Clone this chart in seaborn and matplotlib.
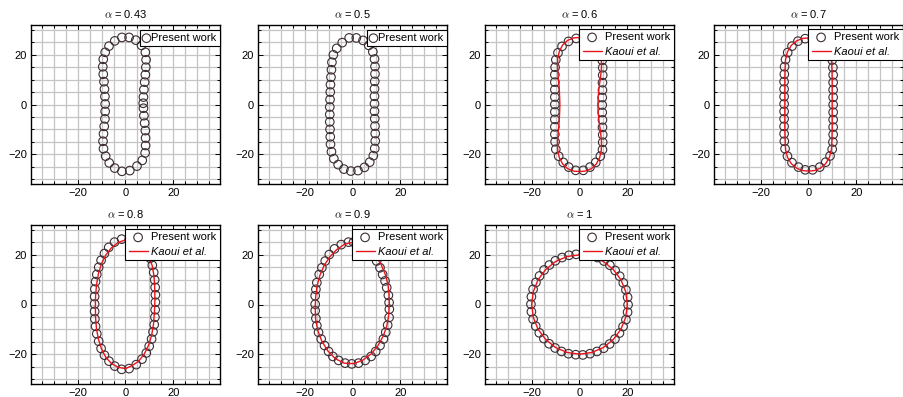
import numpy as np
import pandas as pd
import matplotlib
matplotlib.use("Agg")
import matplotlib.pyplot as plt
import seaborn as sns

# ---------------- data ----------------
alpha_labels = ["0.43", "0.5", "0.6", "0.7", "0.8", "0.9", "1"]

present_043 = [(-1.5, 27.0), (1.5, 27.0), (4.3, 25.9), (6.7, 23.8), (8.3, 21.0), (8.6, 18.0),
               (8.5, 15.0), (8.3, 12.0), (8.0, 9.0), (7.7, 6.0), (7.5, 3.0), (7.4, 0.5),
               (7.5, -1.5), (7.7, -4.5), (8.0, -7.5), (8.3, -10.5), (8.4, -13.5), (8.4, -16.5),
               (8.2, -19.5), (7.0, -22.5), (4.8, -24.8), (1.8, -26.6), (-1.5, -26.9), (-4.5, -25.6),
               (-6.8, -23.5), (-8.3, -20.8), (-9.2, -17.8), (-9.4, -14.8), (-9.2, -11.8), (-8.9, -8.8),
               (-8.6, -5.8), (-8.5, -2.8), (-8.5, 0.2), (-8.6, 3.2), (-8.8, 6.2), (-9.0, 9.2),
               (-9.3, 12.2), (-9.5, 15.2), (-9.3, 18.2), (-8.5, 21.0), (-6.9, 23.5), (-4.5, 25.6)]

present_05 = [(-1.4, 26.8), (1.6, 26.8), (4.4, 25.8), (6.8, 23.8), (8.5, 21.2), (9.2, 18.3),
              (9.4, 15.3), (9.4, 12.3), (9.3, 9.3), (9.2, 6.3), (9.2, 3.3), (9.2, 0.3),
              (9.2, -2.7), (9.3, -5.7), (9.4, -8.7), (9.5, -11.7), (9.5, -14.7), (9.3, -17.7),
              (8.7, -20.6), (7.2, -23.2), (5.0, -25.3), (2.3, -26.6), (-0.7, -26.8), (-3.6, -26.0),
              (-6.0, -24.2), (-7.8, -21.8), (-8.8, -19.0), (-9.2, -16.0), (-9.3, -13.0), (-9.4, -10.0),
              (-9.5, -7.0), (-9.5, -4.0), (-9.5, -1.0), (-9.4, 2.0), (-9.3, 5.0), (-9.2, 8.0),
              (-9.0, 11.0), (-8.8, 14.0), (-8.6, 17.0), (-8.0, 20.0), (-6.6, 22.6), (-4.3, 24.9)]

present_06 = [(-1.4, 26.6), (1.6, 26.6), (4.4, 25.4), (6.8, 23.4), (8.6, 20.8), (9.5, 17.8),
              (9.7, 14.8), (9.7, 11.8), (9.6, 8.8), (9.6, 5.8), (9.5, 2.8), (9.5, -0.2),
              (9.5, -3.2), (9.6, -6.2), (9.6, -9.2), (9.7, -12.2), (9.7, -15.2), (9.6, -18.2),
              (8.7, -20.8), (6.8, -23.3), (4.4, -25.2), (1.6, -26.5), (-1.6, -26.5), (-4.5, -25.2),
              (-6.8, -23.3), (-8.7, -20.8), (-9.9, -18.0), (-10.2, -15.0), (-10.3, -12.0), (-10.3, -9.0),
              (-10.3, -6.0), (-10.3, -3.0), (-10.3, 0.0), (-10.3, 3.0), (-10.3, 6.0), (-10.3, 9.0),
              (-10.3, 12.0), (-10.2, 15.0), (-9.9, 18.0), (-9.0, 20.8), (-7.3, 23.4), (-4.6, 25.4)]

present_07 = [(-1.4, 26.5), (1.6, 26.5), (4.5, 25.4), (7.0, 23.4), (8.8, 20.8), (9.9, 17.9),
              (10.2, 14.9), (10.3, 11.9), (10.3, 8.9), (10.3, 5.9), (10.3, 2.9), (10.3, -0.1),
              (10.3, -3.1), (10.3, -6.1), (10.3, -9.1), (10.3, -12.1), (10.2, -15.1), (9.9, -18.0),
              (9.0, -20.7), (7.2, -23.2), (4.7, -25.2), (1.7, -26.3), (-1.4, -26.3), (-4.2, -25.2),
              (-6.9, -23.4), (-8.8, -20.8), (-9.8, -17.8), (-10.1, -14.8), (-10.2, -11.8), (-10.2, -8.8),
              (-10.2, -5.8), (-10.2, -2.8), (-10.2, 0.2), (-10.2, 3.2), (-10.2, 6.2), (-10.2, 9.2),
              (-10.1, 12.2), (-10.0, 15.2), (-9.6, 18.1), (-8.7, 20.9), (-6.9, 23.5), (-4.4, 25.5)]

present_08 = [(-1.6, 26.3), (1.5, 26.2), (4.5, 25.2), (7.0, 23.5), (8.9, 21.2), (10.3, 18.6),
              (11.2, 15.8), (11.8, 12.9), (12.2, 9.9), (12.4, 6.9), (12.5, 3.9), (12.5, 0.9),
              (12.4, -2.1), (12.3, -5.1), (12.0, -8.1), (11.5, -11.0), (10.9, -13.9), (9.9, -16.8),
              (8.7, -19.5), (6.9, -22.0), (4.5, -24.2), (1.5, -25.8), (-1.6, -26.1), (-4.5, -24.8),
              (-6.9, -22.8), (-8.8, -20.4), (-10.2, -17.7), (-11.2, -14.8), (-12.0, -11.8), (-12.5, -8.8),
              (-12.8, -5.8), (-12.9, -2.8), (-12.9, 0.2), (-12.9, 3.2), (-12.8, 6.2), (-12.5, 9.2),
              (-12.0, 12.1), (-11.2, 15.0), (-10.2, 17.8), (-8.8, 20.5), (-7.0, 23.0), (-4.6, 25.1)]

present_09 = [(-1.7, 25.1), (0.4, 25.1), (3.2, 24.1), (6.0, 22.4), (8.3, 20.1), (10.1, 17.5),
              (11.5, 14.8), (12.6, 12.1), (13.6, 9.5), (14.3, 6.8), (15.0, 3.7), (15.3, 0.8),
              (15.4, -1.9), (15.3, -5.2), (14.7, -8.3), (13.9, -11.2), (12.9, -13.9), (11.5, -16.5),
              (9.7, -18.9), (7.8, -20.9), (5.3, -22.5), (2.5, -23.6), (-0.3, -23.9), (-3.1, -23.6),
              (-5.8, -22.5), (-8.2, -20.9), (-10.0, -18.9), (-11.7, -16.5), (-13.1, -13.9), (-14.2, -11.2),
              (-14.9, -8.5), (-15.3, -5.6), (-15.6, -2.5), (-15.6, 0.1), (-15.6, 3.5), (-15.3, 6.1),
              (-14.9, 8.8), (-13.9, 12.1), (-12.8, 14.8), (-11.4, 17.5), (-9.7, 20.1), (-7.5, 22.4),
              (-4.7, 24.1)]

present_1 = [(-1.4, 20.2), (1.6, 20.2), (4.6, 19.8), (7.5, 18.9), (10.2, 17.5), (12.7, 15.8),
             (14.9, 13.7), (16.8, 11.4), (18.3, 8.7), (19.4, 5.9), (20.1, 2.9), (20.3, -0.1),
             (20.1, -3.1), (19.4, -6.1), (18.2, -8.9), (16.7, -11.5), (14.8, -13.9), (12.6, -15.9),
             (10.1, -17.6), (7.3, -18.9), (4.4, -19.8), (1.4, -20.3), (-1.6, -20.2), (-4.6, -19.8),
             (-7.5, -18.9), (-10.2, -17.5), (-12.7, -15.8), (-14.9, -13.7), (-16.8, -11.4), (-18.3, -8.7),
             (-19.4, -5.9), (-20.1, -2.9), (-20.3, 0.1), (-20.1, 3.1), (-19.4, 6.1), (-18.2, 8.9),
             (-16.7, 11.5), (-14.8, 13.9), (-12.6, 15.9), (-10.1, 17.6), (-7.3, 18.9), (-4.4, 19.8)]

kaoui_06 = [(0, 27.0), (2.5, 26.8), (5.0, 25.8), (7.0, 24.0), (8.4, 21.5), (9.1, 18.5), (9.2, 15.0),
            (8.8, 11.0), (8.2, 7.0), (7.8, 3.0), (7.7, 0.0), (7.8, -3.0), (8.2, -7.0), (8.8, -11.0),
            (9.2, -15.0), (9.1, -18.5), (8.4, -21.5), (7.0, -24.0), (5.0, -25.8), (2.5, -26.8),
            (0, -27.0), (-2.5, -26.8), (-5.0, -25.8), (-7.0, -24.0), (-8.4, -21.5), (-9.1, -18.5),
            (-9.2, -15.0), (-8.9, -11.0), (-8.5, -7.0), (-8.3, -3.0), (-8.2, 0.0), (-8.3, 3.0),
            (-8.5, 7.0), (-8.9, 11.0), (-9.2, 15.0), (-9.1, 18.5), (-8.4, 21.5), (-7.0, 24.0),
            (-5.0, 25.8), (-2.5, 26.8), (0, 27.0)]

kaoui_07 = [(0, 26.8), (2.5, 26.6), (5.0, 25.6), (7.2, 23.8), (8.8, 21.2), (9.6, 18.0), (9.8, 14.0),
            (9.9, 10.0), (9.9, 5.0), (9.9, 0.0), (9.9, -5.0), (9.9, -10.0), (9.8, -14.0), (9.6, -18.0),
            (8.8, -21.2), (7.2, -23.8), (5.0, -25.6), (2.5, -26.6), (0, -26.8), (-2.5, -26.6),
            (-5.0, -25.6), (-7.2, -23.8), (-8.8, -21.2), (-9.6, -18.0), (-9.8, -14.0), (-9.9, -10.0),
            (-9.9, -5.0), (-9.9, 0.0), (-9.9, 5.0), (-9.9, 10.0), (-9.8, 14.0), (-9.6, 18.0),
            (-8.8, 21.2), (-7.2, 23.8), (-5.0, 25.6), (-2.5, 26.6), (0, 26.8)]

kaoui_08 = [(0, 26.0), (3.0, 25.5), (5.8, 24.1), (8.2, 22.0), (10.0, 19.0), (11.2, 15.5), (11.9, 11.5),
            (12.2, 7.0), (12.3, 2.0), (12.1, -3.0), (11.7, -8.0), (10.9, -12.5), (9.6, -16.5),
            (7.8, -20.0), (5.5, -22.8), (2.8, -24.6), (0, -25.8), (-3.0, -25.3), (-5.8, -23.8),
            (-8.2, -21.3), (-10.0, -18.0), (-11.3, -14.0), (-12.1, -10.0), (-12.5, -5.5), (-12.6, -1.0),
            (-12.5, 3.5), (-12.1, 8.0), (-11.3, 12.5), (-10.0, 16.5), (-8.2, 20.0), (-5.8, 22.9),
            (-3.0, 25.0), (0, 26.0)]

kaoui_09 = [(0, 25.0), (3.5, 24.3), (6.8, 22.5), (9.6, 19.6), (11.9, 16.2), (13.6, 12.4), (14.8, 8.2),
            (15.3, 4.0), (15.4, 0.0), (15.1, -4.5), (14.3, -8.8), (12.8, -12.8), (10.6, -16.6),
            (7.8, -19.9), (4.3, -22.4), (0.5, -23.8), (-3.5, -23.6), (-7.2, -21.8), (-10.3, -18.7),
            (-12.8, -14.8), (-14.5, -10.5), (-15.4, -6.0), (-15.6, -1.5), (-15.4, 3.0), (-14.8, 7.5),
            (-13.6, 11.8), (-11.8, 15.8), (-9.4, 19.3), (-6.6, 22.1), (-3.4, 24.2), (0, 25.0)]

kaoui_1 = [(20.0, 0.0), (19.3, 5.2), (17.3, 10.0), (14.1, 14.1), (10.0, 17.3), (5.2, 19.3), (0.0, 20.0),
           (-5.2, 19.3), (-10.0, 17.3), (-14.1, 14.1), (-17.3, 10.0), (-19.3, 5.2), (-20.0, 0.0),
           (-19.3, -5.2), (-17.3, -10.0), (-14.1, -14.1), (-10.0, -17.3), (-5.2, -19.3), (0.0, -20.0),
           (5.2, -19.3), (10.0, -17.3), (14.1, -14.1), (17.3, -10.0), (19.3, -5.2), (20.0, 0.0)]

present_sets = [present_043, present_05, present_06, present_07, present_08, present_09, present_1]
kaoui_sets = [None, None, kaoui_06, kaoui_07, kaoui_08, kaoui_09, kaoui_1]

# ---------------- style ----------------
sns.set_theme(style="ticks")
plt.rcParams["font.family"] = ["Liberation Sans", "DejaVu Sans"]
plt.rcParams["mathtext.fontset"] = "cm"
plt.rcParams["axes.unicode_minus"] = True
plt.rcParams["text.color"] = "black"
plt.rcParams["xtick.color"] = "black"
plt.rcParams["ytick.color"] = "black"
plt.rcParams["xtick.labelcolor"] = "black"
plt.rcParams["ytick.labelcolor"] = "black"

W, H = 904, 397
fig = plt.figure(figsize=(W / 100, H / 100), dpi=100)

col_left = [31, 258, 485, 714]
ax_w, ax_h = 189, 159
row_top = [25, 225]

for i, (lab, pres, kao) in enumerate(zip(alpha_labels, present_sets, kaoui_sets)):
    r, c = divmod(i, 4)
    left = col_left[c] / W
    bottom = 1 - (row_top[r] + ax_h) / H
    ax = fig.add_axes([left, bottom, ax_w / W, ax_h / H])

    dfp = pd.DataFrame(pres, columns=["x", "y"])
    sns.scatterplot(data=dfp, x="x", y="y", ax=ax, marker="o", s=38,
                    fc="none", ec="#3b2d33", linewidth=0.8, label="Present work", zorder=3)
    if kao is not None:
        dfk = pd.DataFrame(kao, columns=["x", "y"])
        sns.lineplot(data=dfk, x="x", y="y", ax=ax, sort=False, estimator=None,
                     color="#e8141c", lw=1.0, label="Kaoui et al.", zorder=4)

    ax.set(xlabel="", ylabel="")
    ax.set_xlim(-39.5, 39.5)
    ax.set_ylim(-32, 32)
    ax.set_xticks([-20, 0, 20])
    ax.set_yticks([-20, 0, 20])
    ax.set_xticks(np.arange(-35, 36, 5), minor=True)
    ax.set_yticks(np.arange(-30, 31, 5), minor=True)
    ax.set_axisbelow(True)
    ax.grid(which="both", color="#c4c4c4", lw=0.9)
    ax.tick_params(which="both", direction="in", top=True, right=True,
                   color="black", width=0.7, labelsize=8, pad=3, labelcolor="black")
    ax.tick_params(which="major", length=3.5)
    ax.tick_params(which="minor", length=2)
    for sp in ax.spines.values():
        sp.set_visible(True)
        sp.set_color("black")
        sp.set_linewidth(1.0)
    ax.set_title(r"$\alpha$ = " + lab, fontsize=8, pad=5, color="black")

    if kao is None:
        leg = ax.legend(loc="upper right", bbox_to_anchor=(1.0, 0.97), borderaxespad=0,
                        fontsize=8, handlelength=0.6, handletextpad=0.15, borderpad=0.3,
                        fancybox=False, framealpha=1, edgecolor="black")
    else:
        leg = ax.legend(loc="upper right", bbox_to_anchor=(1.0, 0.975), borderaxespad=0,
                        fontsize=8, handlelength=1.7, handletextpad=0.35, borderpad=0.3,
                        labelspacing=0.4, fancybox=False, framealpha=1, edgecolor="black")
        leg.get_texts()[1].set_fontstyle("italic")
    for t in leg.get_texts():
        t.set_color("black")
    leg.get_frame().set_linewidth(0.8)
    leg.set_zorder(10)

fig.savefig("out.png", dpi=100)
